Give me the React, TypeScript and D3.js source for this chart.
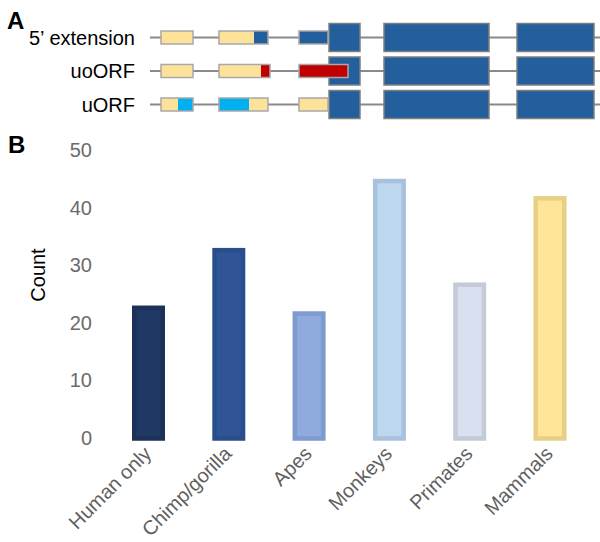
import React from "react";
import * as d3 from "d3";

// ---------- Panel A data ----------
const geneRows = ["5\u2019 extension", "uoORF", "uORF"];
// coding exons (large boxes), genomic units
const cdsExons: [number, number][] = [
  [179, 210],
  [234, 339],
  [367, 444],
];
// small 5' exons per row: [start, end, kind]
const row0Segs: [number, number, string][] = [
  [11, 43, "utr"],
  [69, 104, "utr"],
  [104, 118, "cds"],
  [149, 178, "cds"],
];
const row1Segs: [number, number, string][] = [
  [11, 43, "utr"],
  [69, 111, "utr"],
  [111, 120, "uo"],
  [149, 198, "uo"],
];
const row2Segs: [number, number, string][] = [
  [11, 28, "utr"],
  [28, 43, "u"],
  [69, 99, "u"],
  [99, 118, "utr"],
  [149, 178, "utr"],
];
const row0Exons: [number, number][] = [[11, 43], [69, 118], [149, 178]];
const row1Exons: [number, number][] = [[11, 43], [69, 120], [149, 198]];
const row2Exons: [number, number][] = [[11, 43], [69, 118], [149, 178]];
const rowSegs = [row0Segs, row1Segs, row2Segs];
const rowExons = [row0Exons, row1Exons, row2Exons];

// ---------- Panel B data ----------
const categories = ["Human only", "Chimp/gorilla", "Apes", "Monkeys", "Primates", "Mammals"];
const counts = [23, 33, 22, 45, 27, 42];
const yTicks = [0, 10, 20, 30, 40, 50];
const barFills = ["#203864", "#2f5597", "#8faadc", "#bdd7ee", "#d9e0ef", "#ffe597"];
const barStrokes = ["#1b3159", "#2a4e8c", "#7e9ad0", "#a8c1dc", "#c3cad8", "#e7cf86"];

const kindColor: Record<string, string> = {
  utr: "#fde29a",
  cds: "#225f9c",
  uo: "#c00000",
  u: "#00b0f0",
};

const FONT = "'Liberation Sans', Arial, Helvetica, sans-serif";

export default function App() {
  // Panel A scales
  const gx = d3.scaleLinear().domain([0, 450]).range([150, 600]);
  const gy = d3.scalePoint<string>().domain(geneRows).range([37.5, 104.5]);
  const smallH = 13;
  const bigH = 28;

  // Panel B scales
  const x = d3.scalePoint<string>().domain(categories).range([148.5, 550]);
  const y = d3.scaleLinear().domain([0, 50]).range([438, 150]);
  const barW = 33;
  const sw = 4.5;

  return (
    <svg
      width={600}
      height={542}
      style={{ position: "absolute", left: 0, top: 0, background: "#fff" }}
      fontFamily={FONT}
    >
      <rect width={600} height={542} fill="#fff" />
      {/* Panel labels */}
      <text x={7} y={29} fontSize={24} fontWeight="bold" fill="#000">A</text>
      <text x={8} y={153} fontSize={24} fontWeight="bold" fill="#000">B</text>

      {/* Panel A */}
      {geneRows.map((r, i) => {
        const cy = gy(r)!;
        return (
          <g key={r}>
            <text x={135} y={cy} dy="0.35em" textAnchor="end" fontSize={20} fill="#000">
              {r}
            </text>
            <line x1={gx(0)} x2={gx(450)} y1={cy} y2={cy} stroke="#8a8a8a" strokeWidth={2} />
            {cdsExons.map(([s, e], j) => (
              <rect
                key={"c" + j}
                x={gx(s)}
                y={cy - bigH / 2}
                width={gx(e) - gx(s)}
                height={bigH}
                fill={kindColor.cds}
                stroke="#7f7f7f"
                strokeWidth={1.5}
              />
            ))}
            {rowSegs[i].map(([s, e, k], j) => (
              <rect
                key={"s" + j}
                x={gx(s)}
                y={cy - smallH / 2}
                width={gx(e) - gx(s)}
                height={smallH}
                fill={kindColor[k]}
              />
            ))}
            {rowExons[i].map(([s, e], j) => (
              <rect
                key={"o" + j}
                x={gx(s)}
                y={cy - smallH / 2}
                width={gx(e) - gx(s)}
                height={smallH}
                fill="none"
                stroke="#a8a8a8"
                strokeWidth={1.5}
              />
            ))}
          </g>
        );
      })}

      {/* Panel B */}
      {yTicks.map((t) => (
        <text
          key={t}
          x={92}
          y={y(t)}
          dy="0.35em"
          textAnchor="end"
          fontSize={20}
          fill="#6b6b6b"
        >
          {t}
        </text>
      ))}
      <text
        transform={`translate(38,275) rotate(-90)`}
        textAnchor="middle"
        dy="0.35em"
        fontSize={20}
        fill="#000"
      >
        Count
      </text>
      {categories.map((c, i) => {
        const cx = x(c)!;
        const top = y(counts[i]);
        return (
          <rect
            key={c}
            x={cx - barW / 2 + sw / 2}
            y={top + sw / 2}
            width={barW - sw}
            height={y(0) - top - sw / 2 + 0.5}
            fill={barFills[i]}
            stroke={barStrokes[i]}
            strokeWidth={sw}
          />
        );
      })}
      {categories.map((c) => {
        const cx = x(c)!;
        return (
          <text
            key={"l" + c}
            transform={`translate(${cx + 4},${455}) rotate(-45)`}
            textAnchor="end"
            fontSize={20}
            fill="#5f5f5f"
          >
            {c}
          </text>
        );
      })}
    </svg>
  );
}
